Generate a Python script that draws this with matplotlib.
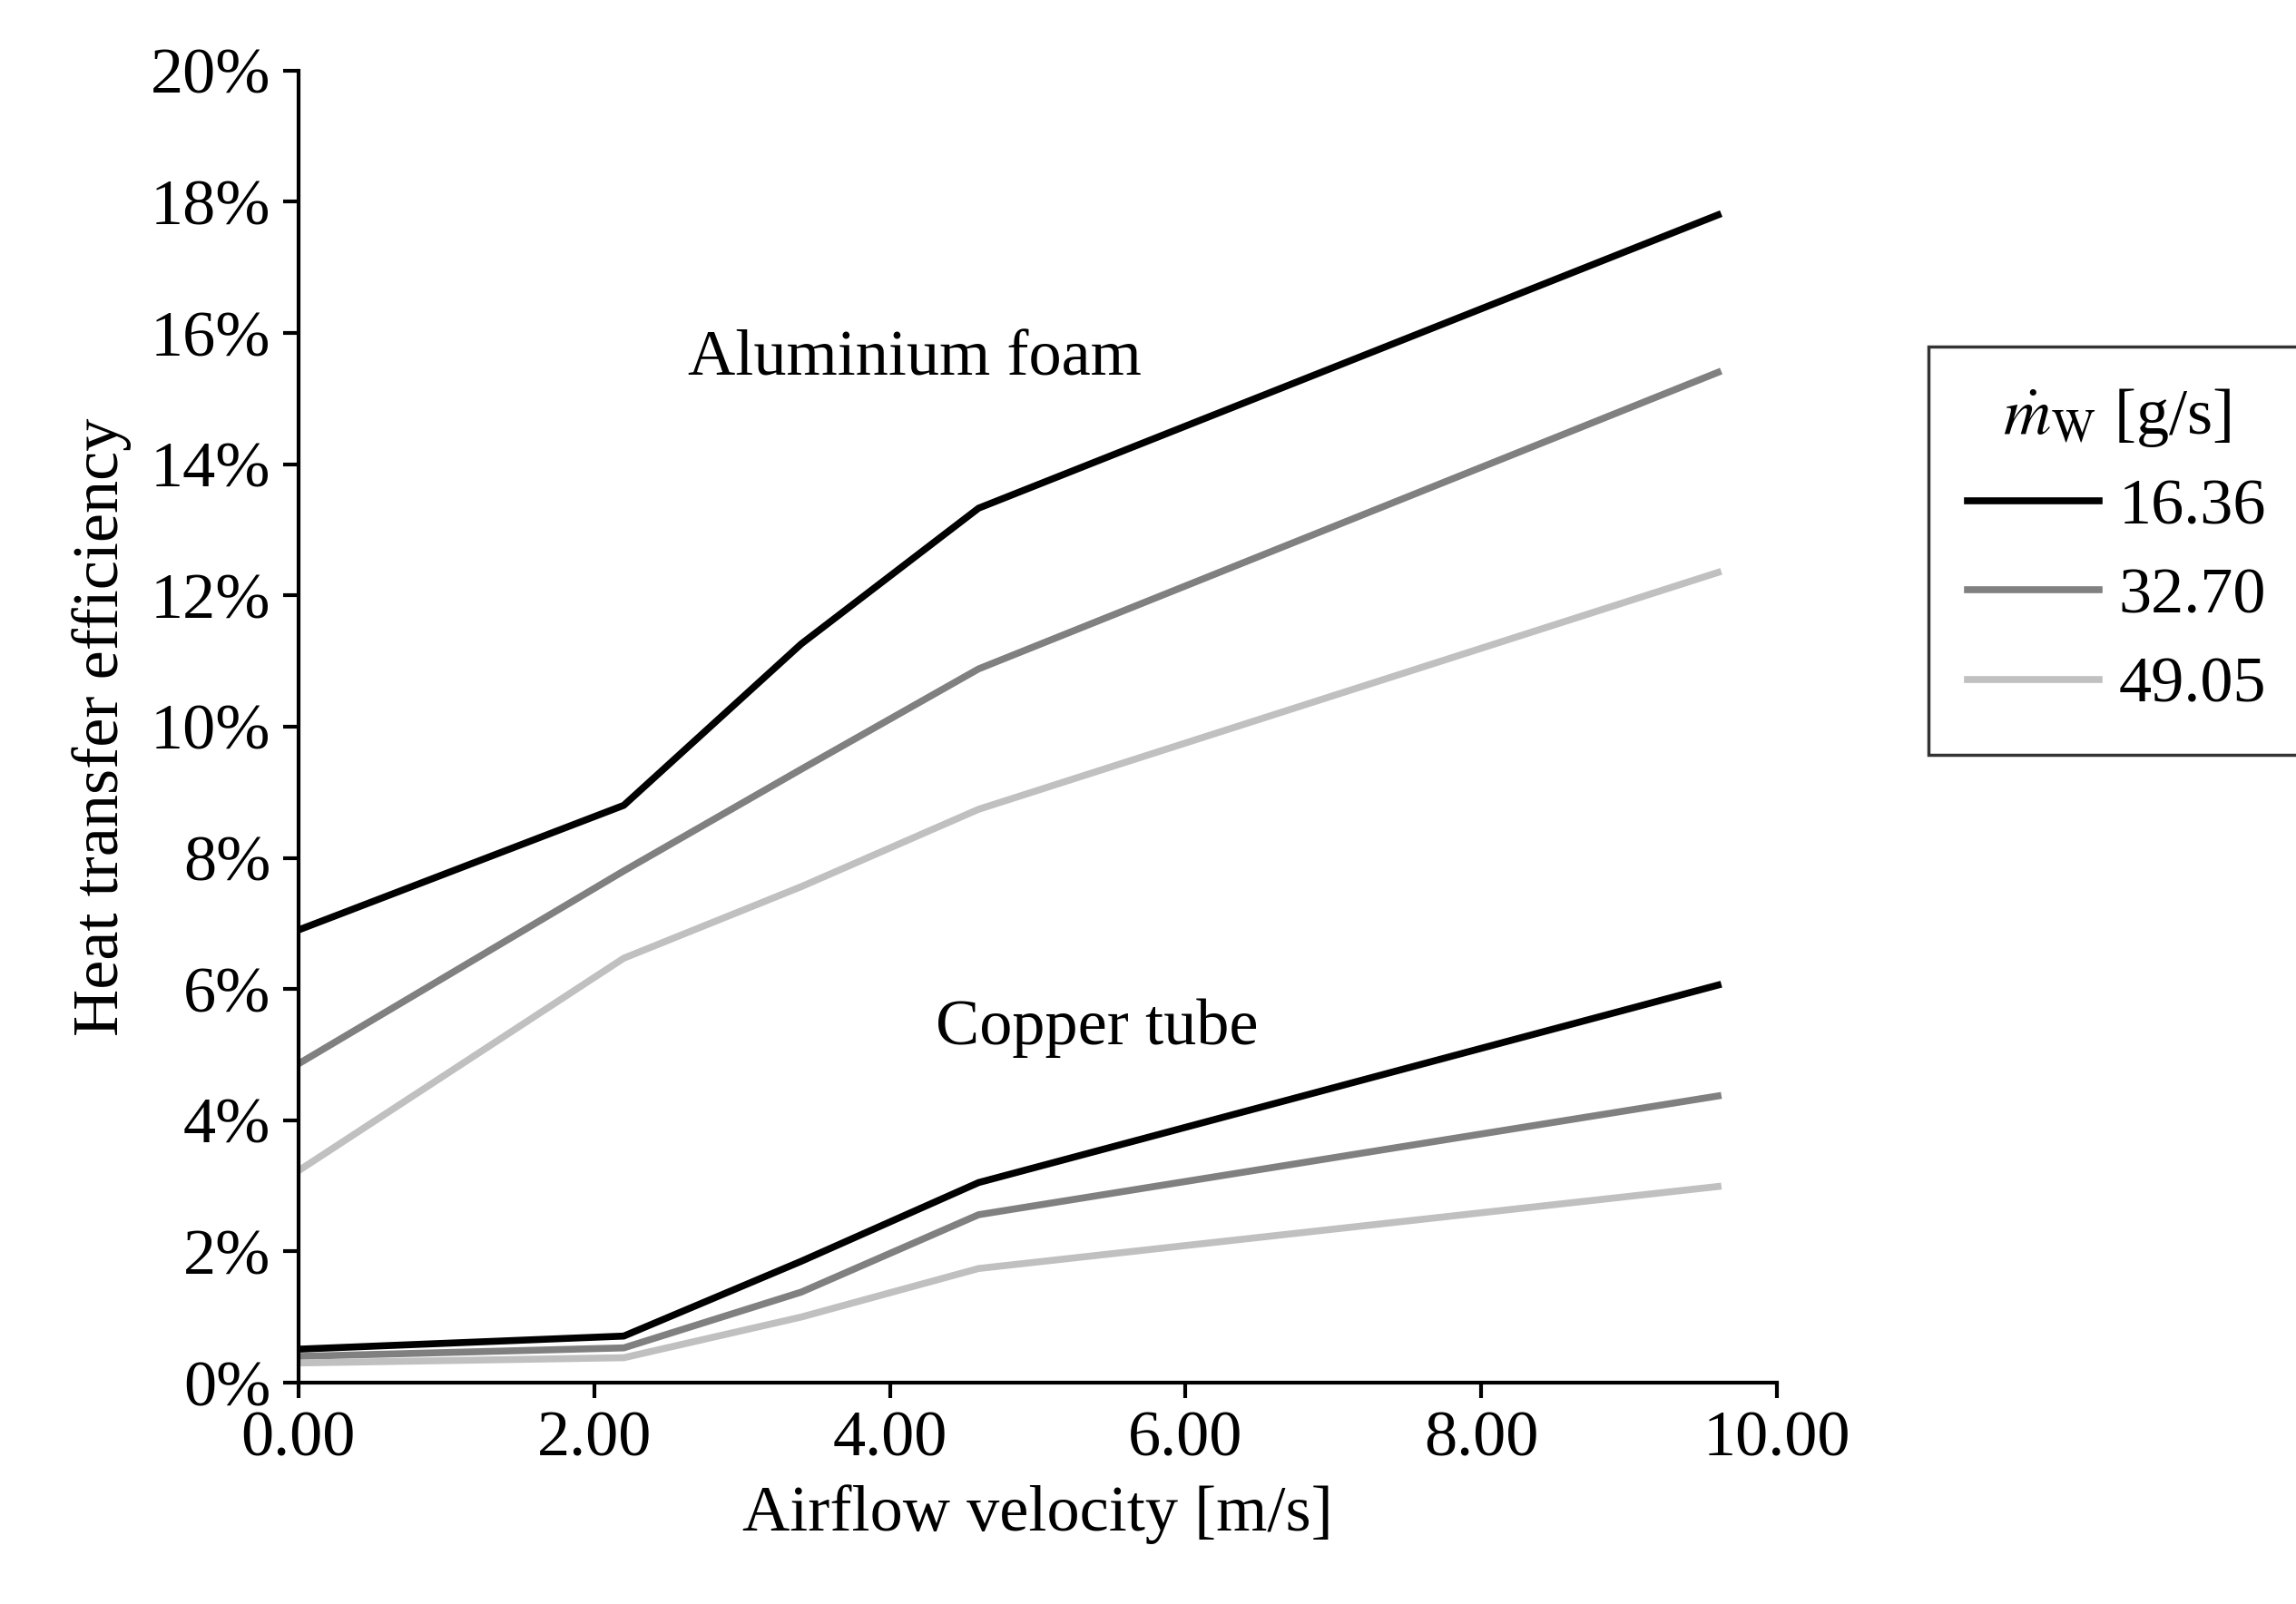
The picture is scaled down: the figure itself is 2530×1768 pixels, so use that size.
import matplotlib
matplotlib.use("Agg")
import matplotlib.pyplot as plt
from matplotlib.ticker import FuncFormatter

plt.rcParams['font.family'] = ['Liberation Serif', 'DejaVu Serif']
plt.rcParams['mathtext.fontset'] = 'stix'

velocity = [0.0, 2.2, 3.4, 4.6, 9.6]
labels = ["16.36", "32.70", "49.05"]
colors = ["#000000", "#808080", "#c0c0c0"]
al_foam = [
    [6.9, 8.8, 11.26, 13.33, 17.8],
    [4.86, 7.8, 9.35, 10.88, 15.4],
    [3.23, 6.47, 7.56, 8.74, 12.35],
]
copper = [
    [0.51, 0.71, 1.85, 3.05, 6.06],
    [0.40, 0.53, 1.38, 2.56, 4.37],
    [0.30, 0.38, 1.00, 1.74, 2.99],
]

fig = plt.figure(figsize=(25.3, 17.68), dpi=100)
ax = fig.add_axes([0.130, 0.138, 0.644, 0.818])
lw = 5.5
for i in range(3):
    ax.plot(velocity, al_foam[i], color=colors[i], lw=lw, label=labels[i])
for i in range(3):
    ax.plot(velocity, copper[i], color=colors[i], lw=lw)

ax.set_xlim(0, 10)
ax.set_ylim(0, 20)
ax.set_xticks([0, 2, 4, 6, 8, 10])
ax.set_yticks(range(0, 21, 2))
ax.xaxis.set_major_formatter(FuncFormatter(lambda v, p: f"{v:.2f}"))
ax.yaxis.set_major_formatter(FuncFormatter(lambda v, p: f"{v:.0f}%"))
for s in ['top', 'right']:
    ax.spines[s].set_visible(False)
for s in ['left', 'bottom']:
    ax.spines[s].set_linewidth(3)
fs = 52
ax.tick_params(labelsize=fs, width=3, length=12, direction='out', pad=10)
ax.set_xlabel("Airflow velocity [m/s]", fontsize=fs, labelpad=12)
ax.set_ylabel("Heat transfer efficiency", fontsize=fs, labelpad=15)

ax.text(4.17, 15.6, "Aluminium foam", fontsize=fs, ha='center', va='center')
ax.text(5.4, 5.4, "Copper tube", fontsize=fs, ha='center', va='center')

leg = fig.legend(loc='upper left', bbox_to_anchor=(1317/1568, 1-237/1096),
                 title=r"$\dot{m}_\mathrm{W}$ [g/s]", fontsize=fs, title_fontsize=fs,
                 frameon=True, fancybox=False, edgecolor='black',
                 handlelength=2.0, labelspacing=0.45, borderpad=0.6, handletextpad=0.3,
                 borderaxespad=0)
leg.get_frame().set_linewidth(2.5)

fig.savefig("out.png", dpi=100)
